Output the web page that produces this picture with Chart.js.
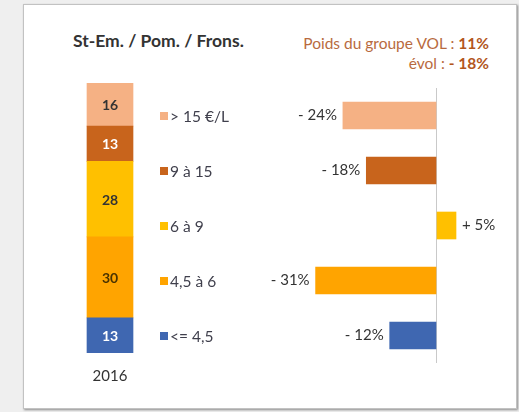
<!DOCTYPE html>
<html>
<head>
<meta charset="utf-8">
<script src="https://cdn.jsdelivr.net/npm/chart.js@4/dist/chart.umd.min.js"></script>
<style>
  html, body { margin: 0; padding: 0; }
  body { width: 519px; height: 412px; background: #efefef; position: relative; overflow: hidden; font-family: Lato, "Open Sans", sans-serif; }
  #panel { position: absolute; left: 23px; top: 4px; width: 492px; height: 403px; background: #fff; border: 1px solid #c2c2c2; box-shadow: 1px 1px 2px #8c8c8c; }
  #title { position: absolute; left: 73px; top: 30px; font-size: 17.5px; font-weight: bold; color: #333; line-height: 22px; white-space: nowrap; }
  #weight { position: absolute; right: 30px; top: 33px; font-size: 15.5px; color: #b86a3e; line-height: 20px; text-align: right; white-space: nowrap; }
  #weight b { color: #b3561c; }
  canvas { position: absolute; }
  #stackChart { left: 60px; top: 70px; }
  #evolChart { left: 150px; top: 80px; }
</style>
</head>
<body>
<div id="panel"></div>
<div id="title">St-Em. / Pom. / Frons.</div>
<div id="weight">Poids du groupe VOL : <b>11%</b><br>évol : <b>- 18%</b></div>
<canvas id="stackChart" width="100" height="320"></canvas>
<canvas id="evolChart" width="360" height="290"></canvas>
<script>
// price bands, top to bottom
const bands = ['> 15 €/L', '9 à 15', '6 à 9', '4,5 à 6', '<= 4,5'];
const years = ['2016'];
const shares = [16, 13, 28, 30, 13];        // % of volume 2016
const evolution = [-24, -18, 5, -31, -12];   // % change
const bandColors = ['#f5b184', '#c8641c', '#ffc000', '#ffa400', '#3f67b1'];
const shareTextColors = ['#333', '#fff', '#333', '#4a3300', '#fff'];

const fmtPct = v => (v < 0 ? '- ' : '+ ') + Math.abs(v) + '%';

// stacked column, first dataset sits at the bottom so go in reverse
const stackOrder = bands.map((_, i) => i).reverse();

const shareLabels = {
  id: 'shareLabels',
  afterDatasetsDraw: chart => {
    const ctx = chart.ctx;
    ctx.save();
    ctx.font = 'bold 14px Lato';
    ctx.textAlign = 'center';
    ctx.textBaseline = 'middle';
    chart.data.datasets.forEach((ds, d) => {
      const bar = chart.getDatasetMeta(d).data[0];
      const idx = stackOrder[d];
      ctx.fillStyle = shareTextColors[idx];
      ctx.fillText(String(shares[idx]), bar.x, (bar.y + bar.base) / 2 + 1);
    });
    ctx.restore();
  }
};

new Chart(document.getElementById('stackChart'), {
  type: 'bar',
  data: {
    labels: years,
    datasets: stackOrder.map(i => ({
      label: bands[i],
      data: [shares[i]],
      backgroundColor: bandColors[i],
      barThickness: 46
    }))
  },
  options: {
    responsive: false,
    animation: false,
    layout: { padding: { top: 13 } },
    plugins: { legend: { display: false }, tooltip: { enabled: false } },
    scales: {
      x: {
        stacked: true,
        grid: { display: false, drawTicks: false },
        border: { display: false },
        ticks: { padding: 14, color: '#333', font: { family: 'Lato', size: 15 } },
        afterFit: axis => { axis.height = 37; }
      },
      y: { stacked: true, display: false, min: 0, max: 100 }
    }
  },
  plugins: [shareLabels]
});

// value labels next to the bars + the legend on the left, on the same rows
const evolLabels = {
  id: 'evolLabels',
  afterDatasetsDraw: chart => {
    const ctx = chart.ctx;
    ctx.save();
    ctx.textBaseline = 'middle';
    chart.getDatasetMeta(0).data.forEach((bar, i) => {
      const v = evolution[i];
      ctx.font = '15px Lato';
      ctx.fillStyle = '#333';
      if (v < 0) {
        ctx.textAlign = 'right';
        ctx.fillText(fmtPct(v), bar.x - 6, bar.y);
      } else {
        ctx.textAlign = 'left';
        ctx.fillText(fmtPct(v), bar.x + 6, bar.y);
      }
      ctx.fillStyle = bandColors[i];
      ctx.fillRect(10, Math.round(bar.y) - 4, 8, 8);
      ctx.fillStyle = '#3f3f4c';
      ctx.textAlign = 'left';
      ctx.font = '15.5px Lato';
      ctx.fillText(bands[i], 20, bar.y + 1);
    });
    ctx.restore();
  }
};

new Chart(document.getElementById('evolChart'), {
  type: 'bar',
  data: {
    labels: bands,
    datasets: [{
      label: 'évol',
      data: evolution,
      backgroundColor: bandColors,
      barThickness: 27
    }]
  },
  options: {
    indexAxis: 'y',
    responsive: false,
    animation: false,
    layout: { padding: { left: 150, right: 15, top: 8, bottom: 7 } },
    plugins: { legend: { display: false }, tooltip: { enabled: false } },
    scales: {
      x: {
        min: -35,
        max: 15,
        ticks: { display: false, stepSize: 5 },
        grid: {
          drawTicks: false,
          color: c => (c.tick && c.tick.value === 0 ? '#c9c9c9' : 'rgba(0,0,0,0)')
        },
        border: { display: false },
        afterFit: axis => { axis.height = 0; }
      },
      y: { display: false }
    }
  },
  plugins: [evolLabels]
});
</script>
</body>
</html>
